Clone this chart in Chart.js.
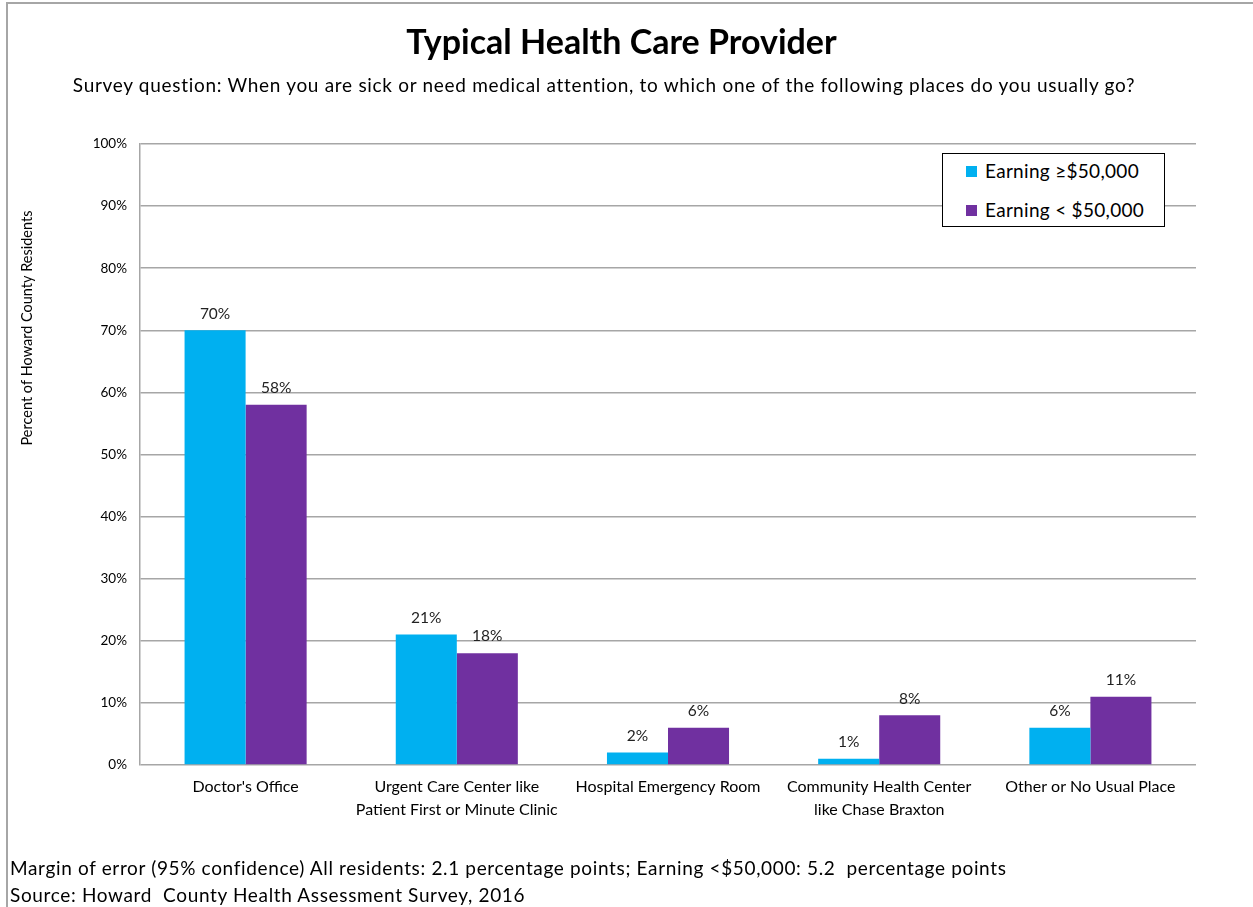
<!DOCTYPE html>
<html>
<head>
<meta charset="utf-8">
<script src="https://cdn.jsdelivr.net/npm/chart.js@4"></script>
<style>
  body { margin: 0; background: #fff; font-family: Lato, "Noto Sans", sans-serif; }
  #wrap { position: relative; width: 1253px; height: 907px; overflow: hidden; }
  #frame { position: absolute; left: 6px; top: 2px; right: -4px; bottom: -4px;
           border-top: 2px solid #a6a6a6; border-left: 2px solid #a6a6a6; }
  canvas { position: absolute; left: 0; top: 0; }
  .txt { position: absolute; color: #000; white-space: pre; }
  #title { left: 0; width: 1243px; top: 20px; text-align: center; font-size: 34px; font-weight: bold; }
  #sub { left: 0; width: 1208px; top: 73px; text-align: center; font-size: 19px; letter-spacing: 0.7px; }
  #foot1 { left: 10px; top: 856px; font-size: 19px; letter-spacing: 0.65px; }
  #foot2 { left: 10px; top: 883px; font-size: 19px; letter-spacing: 0.65px; }
  #legend { position: absolute; left: 942px; top: 153px; width: 221px; height: 72px;
            border: 1.5px solid #000; background: #fff; }
  .item { position: absolute; left: 23px; font-size: 19px; letter-spacing: 0.3px; color: #000; }
  .sw { display: inline-block; width: 11px; height: 11px; margin-right: 8px; vertical-align: 1px; }
</style>
</head>
<body>
<div id="wrap">
  <div id="frame"></div>
  <canvas id="myChart" width="1253" height="907"></canvas>
  <div class="txt" id="title">Typical Health Care Provider</div>
  <div class="txt" id="sub">Survey question: When you are sick or need medical attention, to which one of the following places do you usually go?</div>
  <div id="legend"></div>
  <div class="txt" id="foot1">Margin of error (95% confidence) All residents: 2.1 percentage points; Earning &lt;$50,000: 5.2  percentage points</div>
  <div class="txt" id="foot2">Source: Howard  County Health Assessment Survey, 2016</div>
</div>
<script>
let places = [
  "Doctor's Office",
  ["Urgent Care Center like", "Patient First or Minute Clinic"],
  "Hospital Emergency Room",
  ["Community Health Center", "like Chase Braxton"],
  "Other or No Usual Place"
]
let highIncome = [70, 21, 2, 1, 6]
let lowIncome = [58, 18, 6, 8, 11]
let seriesNames = ["Earning \u2265$50,000", "Earning < $50,000"]
let seriesColors = ["#00b0f0", "#7030a0"]
let yAxisTitle = "Percent of Howard County Residents"

const gridGray = "#a6a6a6"

// percent labels above each bar
const valueLabels = {
  id: "valueLabels",
  afterDatasetsDraw(chart) {
    const ctx = chart.ctx
    ctx.save()
    ctx.font = "15.5px Lato"
    ctx.fillStyle = "#222"
    ctx.textAlign = "center"
    ctx.textBaseline = "bottom"
    chart.data.datasets.forEach((ds, i) => {
      chart.getDatasetMeta(i).data.forEach((bar, j) => {
        ctx.fillText(ds.data[j] + "%", bar.x, bar.y - 9)
      })
    })
    ctx.restore()
  }
}

// rotated y axis caption
const axisCaption = {
  id: "axisCaption",
  afterDraw(chart) {
    const ctx = chart.ctx
    ctx.save()
    ctx.translate(27, 328)
    ctx.rotate(-Math.PI / 2)
    ctx.font = "14.5px Lato"
    ctx.fillStyle = "#000"
    ctx.textAlign = "center"
    ctx.textBaseline = "middle"
    ctx.fillText(yAxisTitle, 0, 0)
    ctx.restore()
  }
}

const data = {
  labels: places,
  datasets: [
    { label: seriesNames[0], data: highIncome, backgroundColor: seriesColors[0] },
    { label: seriesNames[1], data: lowIncome, backgroundColor: seriesColors[1] }
  ]
}

const config = {
  type: "bar",
  data: data,
  options: {
    responsive: false,
    animation: false,
    layout: { padding: { left: 0, top: 144, right: 57, bottom: 0 } },
    datasets: { bar: { categoryPercentage: 0.578, barPercentage: 1.0 } },
    plugins: { legend: { display: false }, tooltip: { enabled: false } },
    scales: {
      x: {
        grid: { display: false, drawTicks: false },
        border: { display: false },
        ticks: { padding: 11, color: "#000", font: { family: "Lato", size: 16, lineHeight: 1.4 }, maxRotation: 0, autoSkip: false },
        afterFit(scale) { scale.height = 142 }
      },
      y: {
        min: 0,
        max: 100,
        grid: { color: gridGray, lineWidth: 1.5, drawTicks: false },
        border: { display: true, color: gridGray, width: 1.5 },
        ticks: {
          stepSize: 10,
          padding: 13,
          color: "#000",
          font: { family: "Lato", size: 13.5 },
          callback: function (value) {
            return value + "%"
          }
        },
        afterFit(scale) { scale.width = 140 }
      }
    }
  },
  plugins: [valueLabels, axisCaption]
}

const myChart = new Chart(document.getElementById("myChart"), config)

// legend box built from the datasets
let legend = document.getElementById("legend")
data.datasets.forEach((ds, i) => {
  let item = document.createElement("div")
  item.className = "item"
  item.style.top = (i == 0 ? 5 : 44) + "px"
  item.innerHTML = `<span class="sw" style="background:${ds.backgroundColor}"></span>`
  item.appendChild(document.createTextNode(ds.label))
  legend.appendChild(item)
})
</script>
</body>
</html>
